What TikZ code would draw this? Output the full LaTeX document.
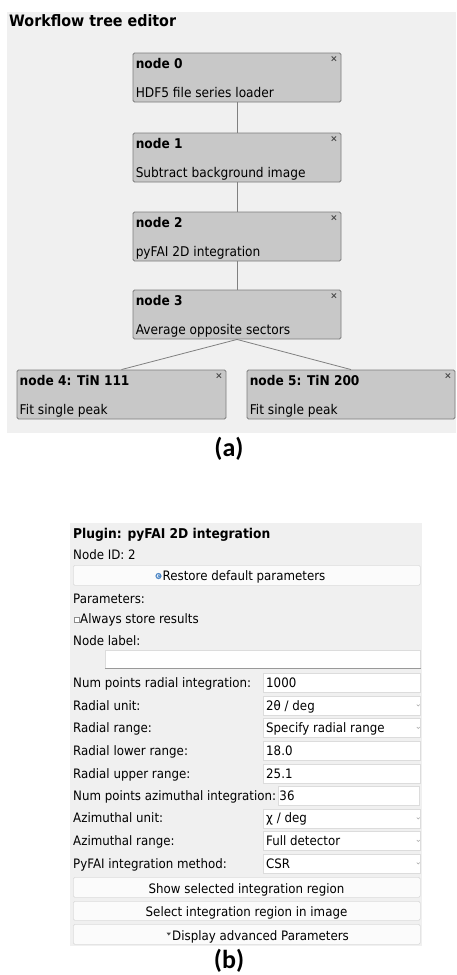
\documentclass[tikz,border=0pt]{standalone}
\usepackage{fontspec}
\setmainfont{DejaVu Sans}[FakeStretch=0.91]
\newfontfamily\capfont{Carlito}
\usetikzlibrary{calc}

\definecolor{panelgray}{HTML}{F0F0F0}
\definecolor{nodefill}{HTML}{C8C8C8}
\definecolor{nodeedge}{HTML}{7C7C7C}
\definecolor{linkgray}{HTML}{808080}
\definecolor{fieldedge}{HTML}{DCDCDC}
\definecolor{btnfill}{HTML}{FBFBFB}
\definecolor{iconblue}{HTML}{4F88C6}
\definecolor{chevgray}{HTML}{A8A8A8}

\tikzset{
  treebox/.style={draw=nodeedge, fill=nodefill, line width=0.9pt, rounded corners=1.5pt,
                  minimum width=208pt, minimum height=49pt, inner sep=0pt},
  headtext/.style={anchor=base west, inner sep=0pt, font=\bfseries\fontsize{13.4}{15}\selectfont},
  desctext/.style={anchor=base west, inner sep=0pt, font=\fontsize{13.4}{15}\selectfont},
  link/.style={draw=linkgray, line width=0.8pt},
  closex/.style={draw=black!70, line width=0.9pt},
  uitext/.style={anchor=base west, inner sep=0pt, font=\fontsize{13}{15}\selectfont},
  uibold/.style={anchor=base west, inner sep=0pt, font=\bfseries\fontsize{13.5}{15}\selectfont},
  btntext/.style={anchor=base, inner sep=0pt, font=\fontsize{13}{15}\selectfont},
  field/.style={draw=fieldedge, fill=white, line width=0.7pt, anchor=north west,
                inner sep=0pt, minimum height=19pt},
  pushbtn/.style={draw=fieldedge, fill=btnfill, line width=0.7pt, rounded corners=1.5pt,
                  anchor=north west, inner sep=0pt, minimum width=347pt, minimum height=20pt},
  chev/.style={draw=chevgray, line width=0.5pt},
  caption/.style={inner sep=0pt, font=\capfont\bfseries\fontsize{26}{30}\selectfont},
}

\begin{document}
\begin{tikzpicture}[x=1pt, y=-1pt]
\useasboundingbox (0,0) rectangle (456,975);
\fill[white] (0,0) rectangle (456,975);

% ---------------- workflow tree editor ----------------
\fill[panelgray] (7,12) rectangle (456,433);
\node[anchor=base west, inner sep=0pt, font=\bfseries\fontsize{15.7}{18}\selectfont]
  (treetitle) at (9,26) {Workflow tree editor};

\node[treebox] (n0) at (237,77.5)  {};
\node[treebox] (n1) at (237,157.5) {};
\node[treebox] (n2) at (237,236.5) {};
\node[treebox] (n3) at (237,314.5) {};
\node[treebox, minimum width=209pt] (n4) at (121.5,394.5) {};
\node[treebox] (n5) at (351,394.5) {};

\draw[link] (n0.south) -- (n1.north);
\draw[link] (n1.south) -- (n2.north);
\draw[link] (n2.south) -- (n3.north);
\draw[link] (n3.south) -- (n4.north);
\draw[link] (n3.south) -- (n5.north);

\foreach \n/\head/\desc in {n0/node 0/HDF5 file series loader,
                            n1/node 1/Subtract background image,
                            n2/node 2/pyFAI 2D integration,
                            n3/node 3/Average opposite sectors,
                            n4/node 4: TiN 111/Fit single peak,
                            n5/node 5: TiN 200/Fit single peak}{
  \node[headtext] (\n-head) at ($(\n.north west)+(3,15.5)$) {\head};
  \node[desctext] (\n-desc) at ($(\n.north west)+(3,44.5)$) {\desc};
  \draw[closex] ($(\n.north east)+(-9.8,3.8)$) -- ++(4.4,4.4)
                ($(\n.north east)+(-9.8,8.2)$) -- ++(4.4,-4.4);
}

\node[caption] (capa) at (229,449) {(a)};

% ---------------- plugin parameter panel ----------------
\fill[panelgray] (70,523) rectangle (422,946);

\node[uibold] (plugin) at (73,538) {Plugin: pyFAI 2D integration};
\node[uitext] (nodeid) at (73,559) {Node ID: 2};

\node[pushbtn] (restore) at (73,565) {};
\fill[iconblue] (158.5,576) circle (3.1);
\draw[white, line width=0.6pt] (158.5,576) ++(60:1.6) arc (60:330:1.6);
\node[uitext] (restoretext) at (162.5,580.5) {Restore default parameters};

\node[uitext] (params) at (73,603) {Parameters:};
\node[draw=black!45, fill=white, line width=0.5pt, inner sep=0pt, minimum size=5pt,
      anchor=north west] (chk) at (73.5,617) {};
\node[uitext] (always) at (80,623) {Always store results};

\node[uitext] (nodelabel) at (73,645) {Node label:};
\node[field, minimum width=315pt, minimum height=18pt] (labelfield) at (105,650) {};
\draw[black!40, line width=0.8pt] (labelfield.south west) -- (labelfield.south east);

% label / value rows
\node[uitext] (l1) at (73,687) {Num points radial integration:};
\node[field, minimum width=157pt] (f1) at (263,673) {};
\node[uitext] (v1) at (266,687) {1000};

\node[uitext] (l2) at (73,710) {Radial unit:};
\node[field, minimum width=157pt] (f2) at (263,695.5) {};
\node[uitext] (v2) at (266,710) {2θ / deg};

\node[uitext] (l3) at (73,732) {Radial range:};
\node[field, minimum width=157pt] (f3) at (263,718) {};
\node[uitext] (v3) at (266,732) {Specify radial range};

\node[uitext] (l4) at (73,755) {Radial lower range:};
\node[field, minimum width=157pt] (f4) at (263,741) {};
\node[uitext] (v4) at (266,755) {18.0};

\node[uitext] (l5) at (73,778) {Radial upper range:};
\node[field, minimum width=157pt] (f5) at (263,763.5) {};
\node[uitext] (v5) at (266,778) {25.1};

\node[uitext] (l6) at (73,800) {Num points azimuthal integration:};
\node[field, minimum width=141pt, anchor=north east] (f6) at (420,786) {};
\node[uitext, anchor=base west] (v6) at ($(l6.base east)+(3,0)$) {36};

\node[uitext] (l7) at (73,822.5) {Azimuthal unit:};
\node[field, minimum width=157pt] (f7) at (263,808.5) {};
\node[uitext] (v7) at (266,822.5) {χ / deg};

\node[uitext] (l8) at (73,845) {Azimuthal range:};
\node[field, minimum width=157pt] (f8) at (263,831) {};
\node[uitext] (v8) at (266,845) {Full detector};

\node[uitext] (l9) at (73,868) {PyFAI integration method:};
\node[field, minimum width=157pt] (f9) at (263,853.5) {};
\node[uitext] (v9) at (266,868) {CSR};

% drop-down marks of the combo boxes
\foreach \f in {f2,f3,f7,f8,f9}{
  \draw[chev] ($(\f.east)+(-3.8,-0.8)$) -- ++(1.4,1.4) -- ++(1.4,-1.4);
}

% push buttons
\node[pushbtn] (showbtn) at (73,877) {};
\node[btntext] (showtext) at (246.5,893) {Show selected integration region};
\node[pushbtn, minimum height=19pt] (selbtn) at (73,901) {};
\node[btntext] (seltext) at (246.5,916) {Select integration region in image};
\node[pushbtn] (advbtn) at (73,924) {};
\fill[black!70] (166.5,932.5) -- (171,932.5) -- (168.75,935.5) -- cycle;
\node[uitext] (advtext) at (172,940) {Display advanced Parameters};

\node[caption] (capb) at (229,961) {(b)};
\end{tikzpicture}
\end{document}
